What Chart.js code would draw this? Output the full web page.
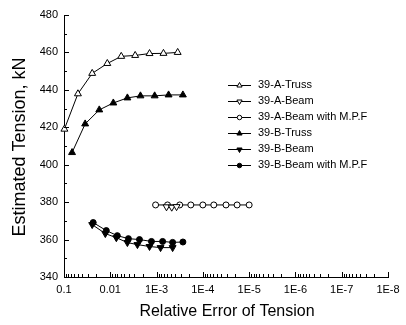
<!DOCTYPE html>
<html>
<head>
<meta charset="utf-8">
<script src="https://cdn.jsdelivr.net/npm/chart.js@4.4.1/dist/chart.umd.min.js"></script>
<style>
    html, body { margin: 0; padding: 0; background: #fff; }
    #contenedor { width: 406px; height: 325px; }
</style>
</head>
<body>
<div id="contenedor"><canvas id="graficoTension" width="406" height="325"></canvas></div>
<script>
// Ticks del eje X (error relativo, escala log invertida) y del eje Y
const xTickValues = [1e-1, 1e-2, 1e-3, 1e-4, 1e-5, 1e-6, 1e-7, 1e-8];
const xTickLabels = ['0.1', '0.01', '1E-3', '1E-4', '1E-5', '1E-6', '1E-7', '1E-8'];
const yTickValues = [340, 360, 380, 400, 420, 440, 460, 480];

// Series
const aTrussX = [0.098, 0.05, 0.0246, 0.0116, 0.0058, 0.0029, 0.00142, 7.1e-4, 3.5e-4];
const aTrussY = [419, 437.9, 448.8, 454.1, 457.9, 458.4, 459.4, 459.5, 460];

const aBeamX = [6.1e-4, 4.7e-4, 3.7e-4];
const aBeamY = [377.5, 377.3, 377.6];

const aBeamMpfX = [1.05e-3, 5.8e-4, 3.16e-4, 1.82e-4, 1.0e-4, 5.8e-5, 3.16e-5, 1.82e-5, 1.0e-5];
const aBeamMpfY = [378.5, 378.5, 378.5, 378.5, 378.5, 378.5, 378.5, 378.5, 378.5];

const bTrussX = [0.067, 0.0349, 0.0173, 0.0086, 0.00427, 0.00223, 0.0011, 5.5e-4, 2.7e-4];
const bTrussY = [406.5, 421.8, 429.3, 433, 435.7, 436.8, 436.8, 437.3, 437.3];

const bBeamX = [0.0246, 0.0128, 0.0074, 0.00427, 0.00259, 0.00142, 8.2e-4, 4.5e-4];
const bBeamY = [368, 363.2, 361, 358.4, 357.3, 356.3, 355.7, 355.7];

const bBeamMpfX = [0.0234, 0.0122, 0.00705, 0.00406, 0.00234, 0.00129, 7.4e-4, 4.5e-4, 2.7e-4];
const bBeamMpfY = [369.1, 364.8, 362.1, 360.5, 360, 359, 359, 358.5, 358.7];

const toPoints = (xs, ys) => xs.map((x, i) => ({ x: x, y: ys[i] }));

const serie = (label, xs, ys, style, fill, rotation) => ({
    label: label,
    data: toPoints(xs, ys),
    showLine: true,
    borderColor: '#000',
    borderWidth: 1,
    pointStyle: style,
    pointRotation: rotation || 0,
    pointRadius: style === 'circle' ? 3 : 4,
    pointBackgroundColor: fill,
    pointBorderColor: '#000',
    pointBorderWidth: 1,
    clip: 6
});

// Ticks hacia adentro (mayores y menores), leyenda y titulos de ejes
const decoracion = {
    id: 'decoracion',
    afterDraw(chart) {
        const ctx = chart.ctx;
        const xs = chart.scales.x;
        const ys = chart.scales.y;
        const area = chart.chartArea;
        ctx.save();
        ctx.strokeStyle = '#000';
        ctx.lineWidth = 1;
        ctx.beginPath();
        for (let e = -8; e <= -1; e++) {
            for (let k = 1; k <= 9; k++) {
                const v = k * Math.pow(10, e);
                if (v > 0.1 + 1e-12) continue;
                const px = Math.round(xs.getPixelForValue(v)) + 0.5;
                const len = k === 1 ? 5 : 3;
                ctx.moveTo(px, area.bottom);
                ctx.lineTo(px, area.bottom - len);
            }
        }
        for (let v = 340; v <= 480; v += 10) {
            const py = Math.round(ys.getPixelForValue(v)) + 0.5;
            const len = v % 20 === 0 ? 5 : 3;
            ctx.moveTo(area.left, py);
            ctx.lineTo(area.left + len, py);
        }
        ctx.stroke();

        // leyenda
        ctx.font = '11px "Liberation Sans", Arial, sans-serif';
        ctx.textBaseline = 'middle';
        ctx.fillStyle = '#000';
        chart.data.datasets.forEach((ds, i) => {
            const y = 85 + i * 16;
            ctx.beginPath();
            ctx.moveTo(228, y + 0.5);
            ctx.lineTo(251, y + 0.5);
            ctx.stroke();
            ctx.fillStyle = ds.pointBackgroundColor;
            Chart.helpers.drawPoint(ctx, {
                pointStyle: ds.pointStyle,
                radius: ds.pointRadius * 0.75,
                rotation: ds.pointRotation,
                borderWidth: 1
            }, 239.5, y + 0.5);
            ctx.fillStyle = '#000';
            ctx.fillText(ds.label, 258, y);
        });

        // titulos de ejes
        ctx.font = '16px "Liberation Sans", Arial, sans-serif';
        ctx.textAlign = 'center';
        ctx.fillText('Relative Error of Tension', 227, 312);
        ctx.translate(20, 147);
        ctx.rotate(-Math.PI / 2);
        ctx.font = '18px "Liberation Sans", Arial, sans-serif';
        ctx.fillText('Estimated Tension, kN', 0, 0);
        ctx.restore();
    }
};

const fuenteTicks = { family: '"Liberation Sans", Arial, sans-serif', size: 11 };

new Chart(document.getElementById('graficoTension').getContext('2d'), {
    type: 'scatter',
    data: {
        datasets: [
            serie('39-A-Truss', aTrussX, aTrussY, 'triangle', '#fff', 0),
            serie('39-A-Beam', aBeamX, aBeamY, 'triangle', '#fff', 180),
            serie('39-A-Beam with M.P.F', aBeamMpfX, aBeamMpfY, 'circle', '#fff', 0),
            serie('39-B-Truss', bTrussX, bTrussY, 'triangle', '#000', 0),
            serie('39-B-Beam', bBeamX, bBeamY, 'triangle', '#000', 180),
            serie('39-B-Beam with M.P.F', bBeamMpfX, bBeamMpfY, 'circle', '#000', 0)
        ]
    },
    options: {
        responsive: false,
        animation: false,
        devicePixelRatio: 1,
        layout: { padding: { left: 0, right: 18, top: 15, bottom: 0 } },
        plugins: {
            legend: { display: false },
            tooltip: { enabled: false }
        },
        scales: {
            x: {
                type: 'logarithmic',
                reverse: true,
                min: 1e-8,
                max: 0.1,
                grid: { display: false, drawTicks: false },
                border: { display: true, color: '#000', width: 1 },
                afterBuildTicks: scale => {
                    scale.ticks = xTickValues.map(v => ({ value: v }));
                },
                afterFit: scale => { scale.height = 48; },
                ticks: {
                    autoSkip: false,
                    maxRotation: 0,
                    padding: 6,
                    color: '#000',
                    font: fuenteTicks,
                    callback: function (value) {
                        const i = xTickValues.findIndex(v => Math.abs(v - value) / v < 1e-6);
                        return i >= 0 ? xTickLabels[i] : '';
                    }
                }
            },
            y: {
                min: 340,
                max: 480,
                grid: { display: false, drawTicks: false },
                border: { display: true, color: '#000', width: 1 },
                afterBuildTicks: scale => {
                    scale.ticks = yTickValues.map(v => ({ value: v }));
                },
                afterFit: scale => { scale.width = 64; },
                ticks: {
                    padding: 6,
                    color: '#000',
                    font: fuenteTicks
                }
            }
        }
    },
    plugins: [decoracion]
});
</script>
</body>
</html>
